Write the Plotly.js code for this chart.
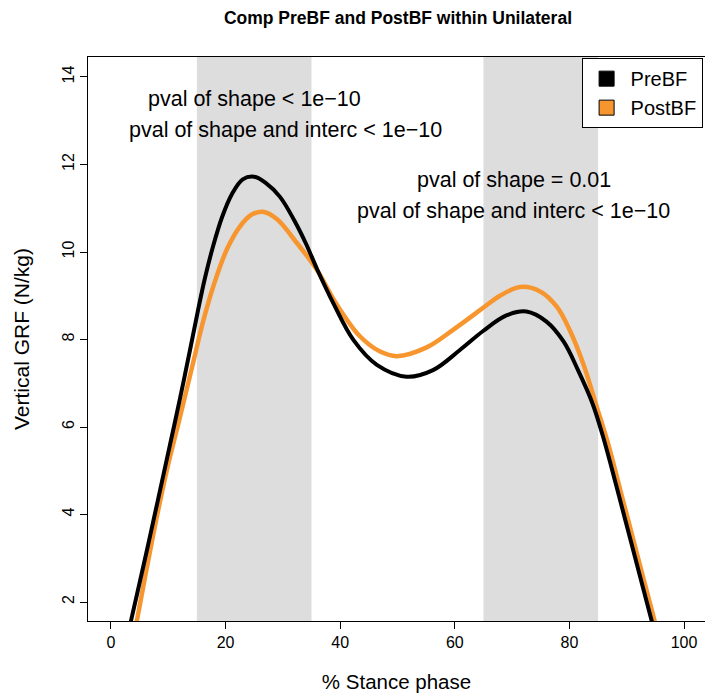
<!DOCTYPE html>
<html>
<head>
<meta charset="utf-8">
<script src="https://cdn.plot.ly/plotly-3.0.1.min.js"></script>
<style>html,body{margin:0;padding:0;background:#fff;}#chart{width:705px;height:698px;}</style>
</head>
<body>
<div id="chart"></div>
<script>
// Stance phase (%) and vertical GRF (N/kg)
const preX = [2, 3.5, 5.9, 8.2, 10.3, 12.0, 13.8, 15.2, 16.4, 17.8, 19.4, 21.1, 23.0, 25.0, 27.0, 29.5, 32.0, 34.0, 36.0, 38.8, 42.3, 46.4, 51.6, 56.2, 60.9, 65.0, 69.0, 72.5, 76.0, 79.0, 81.5, 84.0, 86.0, 88.3, 90.6, 92.9, 94.4, 97];
const preY = [0.7, 1.57, 2.96, 4.33, 5.59, 6.62, 7.76, 8.67, 9.4, 10.12, 10.8, 11.32, 11.66, 11.72, 11.58, 11.26, 10.72, 10.2, 9.6, 8.83, 7.99, 7.42, 7.15, 7.30, 7.76, 8.2, 8.55, 8.64, 8.41, 7.95, 7.3, 6.55, 5.72, 4.6, 3.45, 2.3, 1.55, 0.3];
const postX = [3, 4.5, 7.4, 9.7, 12.0, 14.4, 16.1, 17.9, 20.2, 22.5, 24.5, 26.5, 29.0, 32.0, 35.9, 39.4, 43.4, 46.9, 49.9, 55.1, 59.7, 64.4, 67.9, 71.4, 74.9, 77.8, 80.1, 82.4, 84.8, 86.8, 88.9, 91.1, 93.3, 94.9, 97];
const postY = [0.45, 1.55, 3.55, 4.98, 6.2, 7.5, 8.42, 9.23, 10.05, 10.58, 10.85, 10.92, 10.75, 10.28, 9.6, 8.8, 8.08, 7.73, 7.62, 7.82, 8.22, 8.67, 9.0, 9.2, 9.1, 8.75, 8.2, 7.45, 6.45, 5.6, 4.55, 3.45, 2.35, 1.55, 0.5];
const xTicks = [0, 20, 40, 60, 80, 100];
const yTicks = [2, 4, 6, 8, 10, 12, 14];
const bands = [[15, 35], [65, 85]];
const seriesNames = ['PreBF', 'PostBF'];
const seriesColors = ['#000000', '#f7962f'];
const notes = [
  {x: 25.1, y: 13.5, text: 'pval of shape < 1e\u221210'},
  {x: 30.4, y: 12.8, text: 'pval of shape and interc < 1e\u221210'},
  {x: 70.3, y: 11.65, text: 'pval of shape = 0.01'},
  {x: 70.2, y: 10.94, text: 'pval of shape and interc < 1e\u221210'}
];

const F = 'Liberation Sans, Arial, sans-serif';
const traces = [
  {x: postX, y: postY, mode: 'lines', line: {color: seriesColors[1], width: 4.5, shape: 'spline'}, showlegend: false, hoverinfo: 'skip'},
  {x: preX, y: preY, mode: 'lines', line: {color: seriesColors[0], width: 4, shape: 'spline'}, showlegend: false, hoverinfo: 'skip'},
  {x: [null], y: [null], mode: 'markers', name: seriesNames[0], marker: {symbol: 'square', size: 15, color: seriesColors[0], line: {color: '#000', width: 1}}},
  {x: [null], y: [null], mode: 'markers', name: seriesNames[1], marker: {symbol: 'square', size: 15, color: seriesColors[1], line: {color: '#000', width: 1}}}
];

const layout = {
  width: 705, height: 698,
  margin: {l: 88, r: 0, t: 57, b: 77},
  paper_bgcolor: '#fff', plot_bgcolor: '#fff',
  font: {family: F, color: '#000'},
  title: {text: '<b>Comp PreBF and PostBF within Unilateral</b>', font: {family: F, size: 17.5, color: '#000'}, x: 0.5645, xanchor: 'center', y: 0.974, yanchor: 'middle'},
  xaxis: {
    range: [-4, 103.66], tickvals: xTicks, ticktext: xTicks.map(String),
    ticks: 'outside', ticklen: 7, tickcolor: '#000', tickfont: {family: F, size: 16},
    showgrid: false, zeroline: false, showline: true, linecolor: '#000', linewidth: 1, mirror: true,
    title: {text: '% Stance phase', font: {family: F, size: 20.5}, standoff: 24}
  },
  yaxis: {
    range: [1.566, 14.457], tickvals: yTicks, ticktext: yTicks.map(String), tickangle: -90,
    ticks: 'outside', ticklen: 7, tickcolor: '#000', tickfont: {family: F, size: 16},
    showgrid: false, zeroline: false, showline: true, linecolor: '#000', linewidth: 1,
    title: {text: 'Vertical GRF (N/kg)', font: {family: F, size: 21}, standoff: 24}
  },
  shapes: bands.map(b => ({type: 'rect', xref: 'x', yref: 'paper', x0: b[0], x1: b[1], y0: 0, y1: 1, fillcolor: '#dddddd', line: {width: 0}, layer: 'below'})),
  annotations: notes.map(n => ({x: n.x, y: n.y, xref: 'x', yref: 'y', text: n.text, showarrow: false, font: {family: F, size: 21.5, color: '#000'}, xanchor: 'center', yanchor: 'middle'})),
  legend: {x: 0.8, y: 0.998, xanchor: 'left', yanchor: 'top', bordercolor: '#000', borderwidth: 1, bgcolor: '#fff', font: {family: F, size: 20}, tracegroupgap: 0, itemwidth: 38}
};

Plotly.newPlot('chart', traces, layout, {displayModeBar: false, staticPlot: true});
</script>
</body>
</html>
